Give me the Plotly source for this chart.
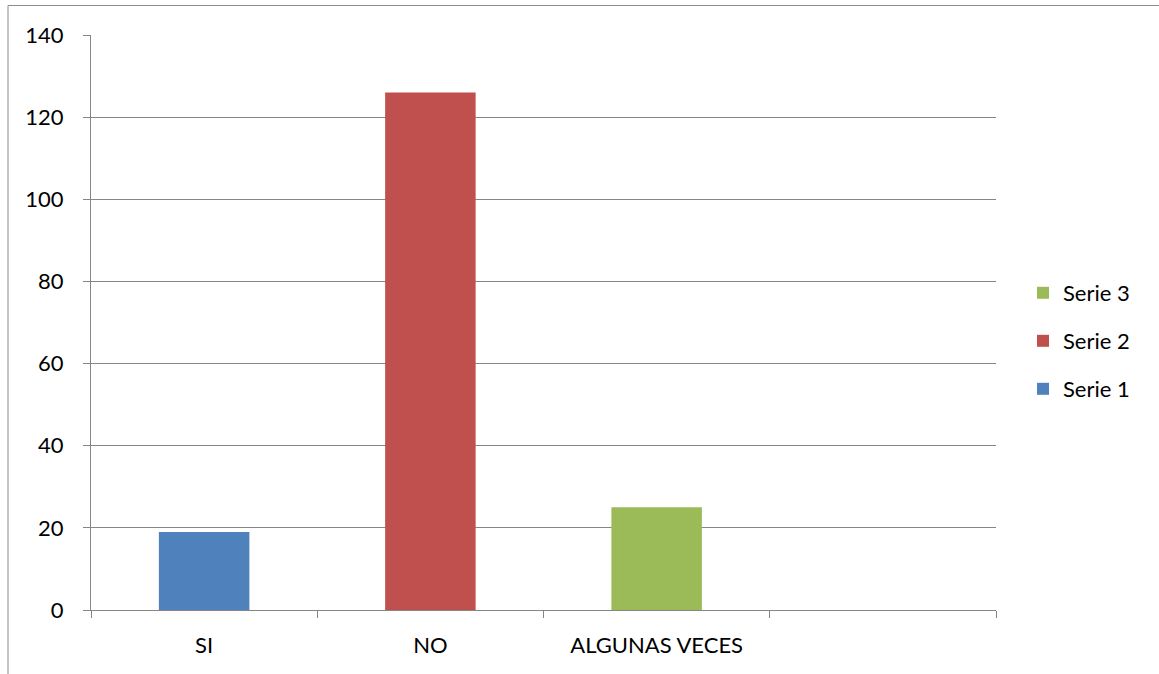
import plotly.graph_objects as go

categories = ["SI", "NO", "ALGUNAS VECES", " "]
serie1_x = ["SI"]
serie1_y = [19]
serie2_x = ["NO"]
serie2_y = [126]
serie3_x = ["ALGUNAS VECES"]
serie3_y = [25]
series_names = ["Serie 1", "Serie 2", "Serie 3"]
colors = ["#4F81BD", "#C0504D", "#9BBB59"]

W, H = 1159, 674
L, R, T, B = 91, 163, 35, 64
PW, PH = W - L - R, H - T - B

def px_x(p):
    return (p - L) / PW

def px_y(p):
    return (H - B - p) / PH

FONT = "Lato"
FS = 22
GRID = "#868686"

fig = go.Figure()
data = [(serie1_x, serie1_y), (serie2_x, serie2_y), (serie3_x, serie3_y)]
legends = ["legend", "legend2", "legend3"]
for i, ((xs, ys), name, c) in enumerate(zip(data, series_names, colors)):
    fig.add_trace(go.Bar(x=xs, y=ys, name=name, marker_color=c,
                         marker_line_width=0, width=0.4, legend=legends[i]))

legend_rows = {"legend": 389, "legend2": 341, "legend3": 293}
leg_common = dict(font=dict(family=FONT, size=FS, color="black"),
                  bgcolor="rgba(0,0,0,0)", xanchor="left", yanchor="middle",
                  x=px_x(1023), borderwidth=0, itemwidth=30)
layout_legends = {k: dict(leg_common, y=px_y(v)) for k, v in legend_rows.items()}

fig.update_layout(
    width=W, height=H,
    margin=dict(l=L, r=R, t=T, b=B, pad=0),
    paper_bgcolor="white", plot_bgcolor="white",
    barmode="overlay",
    font=dict(family=FONT, size=FS, color="black"),
    showlegend=True,
    **layout_legends,
    xaxis=dict(type="category", categoryorder="array", categoryarray=categories,
               range=[-0.5, 3.5], tickson="boundaries", ticks="outside",
               ticklen=7, tickcolor=GRID, tickwidth=1.3, showline=True,
               linecolor=GRID, linewidth=1.3, showgrid=False,
               ticklabelstandoff=15, tickfont=dict(family=FONT, size=FS)),
    yaxis=dict(range=[0, 140], dtick=20, tick0=0, ticks="outside", ticklen=7,
               tickcolor=GRID, tickwidth=1.3, showline=True, linecolor=GRID,
               linewidth=1.3, showgrid=True, gridcolor=GRID, gridwidth=1.3,
               zeroline=False, ticklabelstandoff=15,
               tickfont=dict(family=FONT, size=FS)),
    shapes=[dict(type="rect", xref="paper", yref="paper",
                 x0=px_x(8), x1=px_x(1175), y0=px_y(690), y1=px_y(5.5),
                 line=dict(color="#8C8C8C", width=1), fillcolor="rgba(0,0,0,0)",
                 layer="below")],
)

fig.write_html("out.html", config={"displayModeBar": False},
               post_script="document.body.style.margin='0';document.body.style.padding='0';")
